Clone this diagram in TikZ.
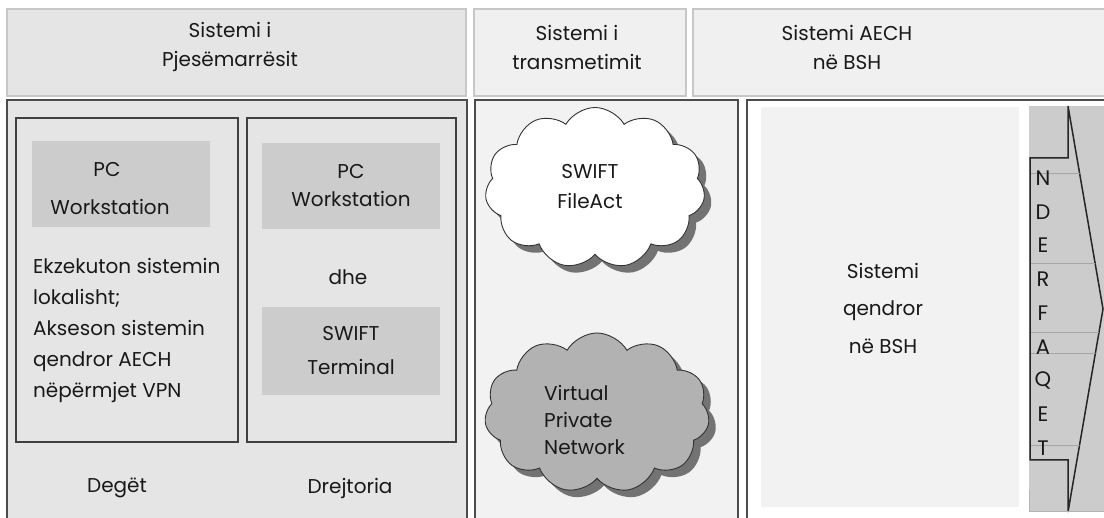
\documentclass[tikz,border=0pt]{standalone}
\usepackage{fontspec}
\setmainfont{Poppins}
\usetikzlibrary{shapes.symbols,shadows}

\tikzset{
  txt/.style={font=\fontsize{20}{#1}\selectfont, text=black!90, align=center, inner sep=0pt},
  txt/.default=31,
  hdr/.style={draw=black!22, line width=1.2pt, fill=#1, inner sep=0pt, minimum height=87pt},
  panel/.style={draw=black!70, line width=1.5pt, fill=#1, inner sep=0pt, minimum height=430pt},
  unit/.style={draw=black!75, line width=1.4pt, fill=black!10, inner sep=0pt, minimum height=324pt},
  pcbox/.style={fill=black!20, inner sep=0pt, minimum width=178pt},
  cloudy/.style={cloud, cloud puffs=11, cloud puff arc=120, cloud ignores aspect,
    draw=black!80, line width=0.9pt, fill=#1,
    drop shadow={shadow xshift=7pt, shadow yshift=-7pt, fill=black!55, opacity=1}},
  letter/.style={font=\fontsize{21}{21}\selectfont, text=black!90, inner sep=0pt}
}

\begin{document}
\begin{tikzpicture}[x=1pt,y=-1pt]
	\useasboundingbox (0,0) rectangle (1104,518);
	\clip (0,0) rectangle (1104,518);

	% headers
	\node[hdr=black!10, minimum width=459pt] (hP) at (236.5,52.5) {};
	\node[hdr=black!6, minimum width=212pt] (hT) at (580,52.5) {};
	\node[hdr=black!6, minimum width=417pt] (hA) at (901.5,52.5) {};

	% panels
	\node[panel=black!10, minimum width=460pt] (pP) at (237,315) {};
	\node[panel=black!5, minimum width=263pt] (pT) at (606.5,315) {};
	\node[panel=white, minimum width=363pt] (pA) at (928.5,315) {};

	% participants
	\node[unit, minimum width=222pt] (deg) at (127,280) {};
	\node[unit, minimum width=209pt] (drj) at (351.5,280) {};
	\node[pcbox, minimum height=86pt] (pc1) at (121,184) {};
	\node[pcbox, minimum height=86pt, txt=28] (pc2) at (351,186) {PC\\Workstation};
	\node[pcbox, minimum height=88pt, txt=34] (term) at (351,351) {SWIFT\\Terminal};

	% transmission clouds
	\node[cloudy=white, minimum width=220pt, minimum height=161pt] (swift) at (595,188) {};
	\node[cloudy=black!30, minimum width=225pt, minimum height=160pt] (vpn) at (597,413) {};

	% central system
	\node[fill=black!5, inner sep=0pt, minimum width=258pt, minimum height=400pt] (core) at (890,307) {};
	\fill[black!20] (1029,106) rectangle (1106,512);
	\draw[black!85, line width=1.5pt, fill=black!20]
		(1068,106) -- (1103,309) -- (1068,512) -- (1068,460) -- (1030,460)
		-- (1030,158) -- (1068,158) -- cycle;
	\begin{scope}
		\clip (1068,106) -- (1103,309) -- (1068,512) -- (1068,460) -- (1030,460)
			-- (1030,158) -- (1068,158) -- cycle;
		\foreach \y in {173,263,332,353,445}
			\draw[black!35, line width=0.6pt] (1031,\y) -- (1106,\y);
	\end{scope}
	\draw[magenta!45, line width=1pt] (1029,490) -- (1029,512) -- (1106,512);

	% node labels
	\node[txt=29] (lP) at (230,47) {Sistemi i\\Pjesëmarrësit};
	\node[txt=29] (lT) at (577,47) {Sistemi i\\transmetimit};
	\node[txt=29] (lA) at (847,47) {Sistemi AECH\\në BSH};
	\node[txt] (pcA) at (107,170) {PC};
	\node[txt] (wsA) at (110,207) {Workstation};
	\node[txt, align=left, anchor=west] (desc) at (33,330) {Ekzekuton sistemin\\lokalisht;\\Akseson sistemin\\qendror AECH\\nëpërmjet VPN};
	\node[txt] (dhe) at (348,277) {dhe};
	\node[txt] (lDeg) at (117,488) {Degët};
	\node[txt] (lDrj) at (350,488) {Drejtoria};
	\node[txt=30] (lSw) at (590,187) {SWIFT\\FileAct};
	\node[txt=27, align=left, anchor=west] (lVpn) at (544,420) {Virtual\\Private\\Network};
	\node[txt=37.5] (lCore) at (883,308) {Sistemi\\qendror\\në BSH};

	% arrow letters
	\foreach \c [count=\i from 0] in {N,D,E,R,F,A,Q,E,T}
		\node[letter] (ch\i) at (1043,178+33.75*\i) {\c};
\end{tikzpicture}
\end{document}
